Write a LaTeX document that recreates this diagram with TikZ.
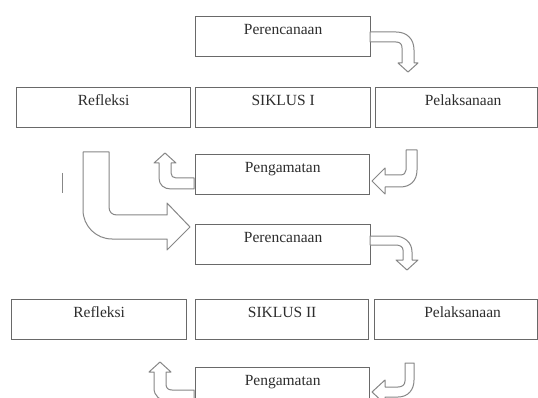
\documentclass[tikz,border=0pt]{standalone}
\usepackage{fontspec}
\setmainfont{Liberation Serif}
\definecolor{boxgray}{RGB}{105,105,105}
\definecolor{arrowgray}{RGB}{135,135,135}
\definecolor{textgray}{RGB}{45,45,45}
\begin{document}
\begin{tikzpicture}[x=1pt,y=-1pt,
  box/.style={draw=boxgray, line width=1.3pt, fill=white, inner xsep=0pt, inner ysep=0pt,
    text height=18pt, text depth=22pt, minimum height=40pt, anchor=north west,
    font=\fontsize{15.5}{18}\selectfont, text=textgray},
  blockarrow/.style={draw=arrowgray, line width=1pt, fill=white, line join=round}]
\useasboundingbox (0,0) rectangle (538,398);
\clip (0,0) rectangle (538,398);
\fill[white] (0,0) rectangle (538,398);

% boxes
\node[box, minimum width=175pt] (plan1) at (195,16) {Perencanaan};
\node[box, minimum width=174pt] (refl1) at (16,87) {Refleksi};
\node[box, minimum width=175pt] (sik1) at (195,87) {SIKLUS I};
\node[box, minimum width=162pt] (pel1) at (375,87) {\hspace*{13pt}Pelaksanaan};
\node[box, minimum width=174pt] (obs1) at (195,154) {Pengamatan};
\node[box, minimum width=175pt] (plan2) at (195,224) {Perencanaan};
\node[box, minimum width=175pt] (refl2) at (11,299) {Refleksi};
\node[box, minimum width=173pt] (sik2) at (195,299) {SIKLUS II};
\node[box, minimum width=163pt] (pel2) at (374,299) {\hspace*{13pt}Pelaksanaan};
\node[box, minimum width=174pt] (obs2) at (195,367) {Pengamatan};

% block arrows, cycle I
\draw[blockarrow] (370,32) -- (396,32) .. controls (407,32) and (414,39) .. (414,50)
  -- (414,63) -- (418,63) -- (408,72) -- (398,63) -- (402,63) -- (402,48)
  .. controls (402,44) and (400,42) .. (396,42) -- (370,42) -- cycle;
\draw[blockarrow] (406,150) -- (417,150) -- (417,170) .. controls (417,181) and (410,187) .. (400,187)
  -- (385,187) -- (385,194) -- (372,181) -- (385,168) -- (385,175) -- (400,175)
  .. controls (404,175) and (406,173) .. (406,170) -- cycle;
\draw[blockarrow] (194,178) -- (176,178) .. controls (173,178) and (171,176) .. (171,173)
  -- (171,163) -- (176,163) -- (165,153) -- (154,163) -- (159,163) -- (159,178)
  .. controls (159,185) and (164,189) .. (171,189) -- (194,189) -- cycle;

% big arrow to cycle II
\draw[blockarrow] (83,152) -- (109,152) -- (109,207) .. controls (109,212) and (112,215) .. (117,215)
  -- (167,215) -- (167,203) -- (190,227) -- (167,250) -- (167,239) -- (112,239)
  .. controls (96,239) and (83,226) .. (83,210) -- cycle;
\draw[arrowgray, line width=1pt] (62.5,173) -- (62.5,193);

% block arrows, cycle II
\draw[blockarrow] (370,236) -- (394,236) .. controls (404,236) and (412,242) .. (412,252)
  -- (412,260) -- (418,260) -- (407,270) -- (396,260) -- (403,260) -- (403,250)
  .. controls (403,247) and (400,245) .. (396,245) -- (370,245) -- cycle;
\draw[blockarrow] (405,363) -- (414,363) -- (414,380) .. controls (414,390) and (408,397) .. (398,397)
  -- (385,397) -- (385,404) -- (372,392) -- (385,380) -- (385,387) -- (398,387)
  .. controls (402,387) and (405,385) .. (405,381) -- cycle;
\draw[blockarrow] (194,390) -- (172,390) .. controls (168,390) and (166,388) .. (166,384)
  -- (166,372) -- (171,372) -- (160,362) -- (149,372) -- (154,372) -- (154,388)
  .. controls (154,396) and (160,401) .. (168,401) -- (194,401) -- cycle;
\end{tikzpicture}
\end{document}
